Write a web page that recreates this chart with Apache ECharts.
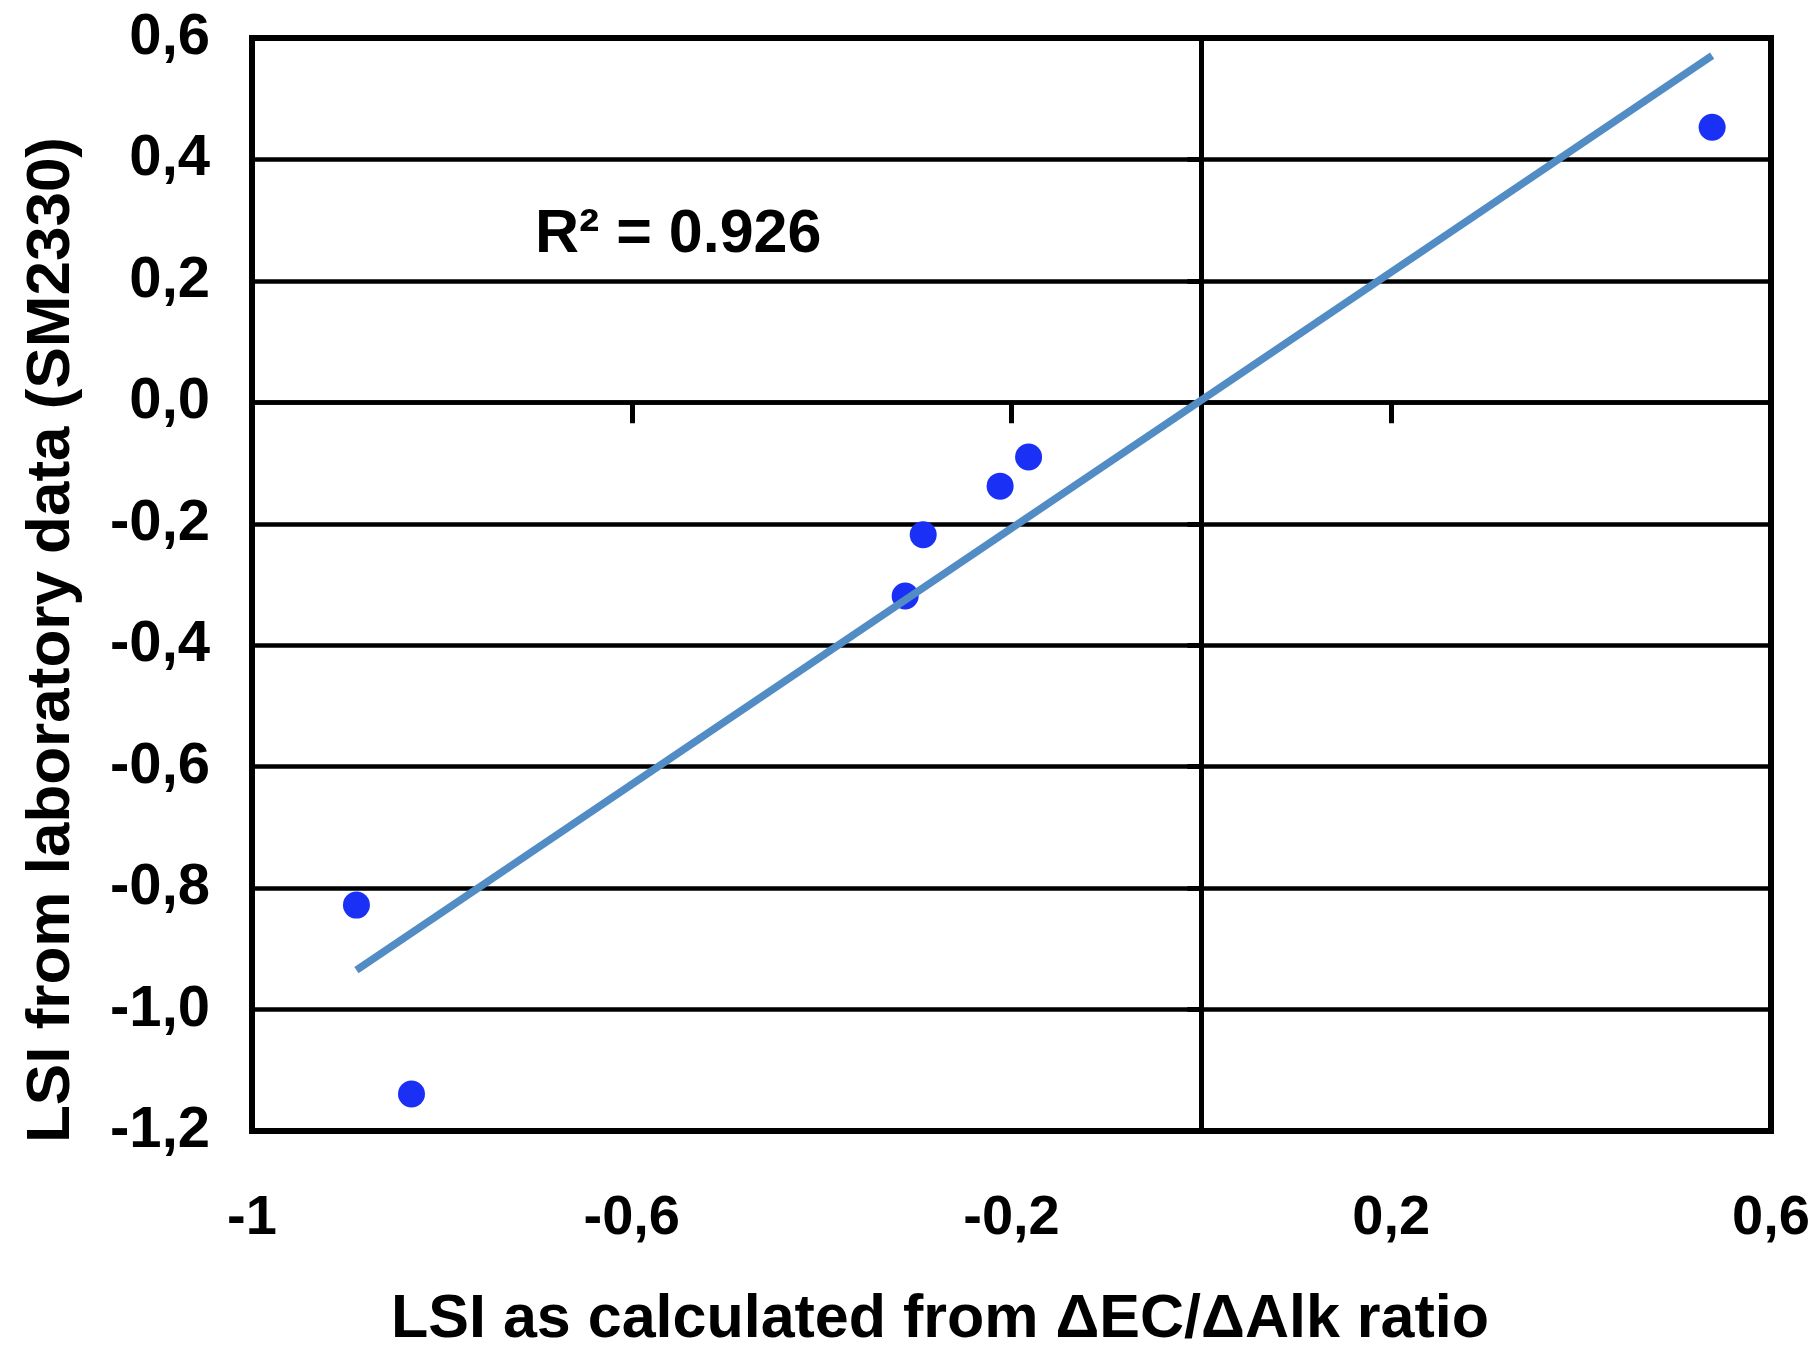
<!DOCTYPE html>
<html><head><meta charset="utf-8">
<script src="https://cdn.jsdelivr.net/npm/echarts@6/dist/echarts.min.js"></script>
<style>html,body{margin:0;padding:0;background:#fff}#c{width:1815px;height:1349px}</style>
</head><body><div id="c"></div>
<script>
// ---- data ----
const xValues = [-0.890, -0.832, -0.312, -0.293, -0.212, -0.182, 0.538];
const yValues = [-0.828, -1.139, -0.319, -0.218, -0.138, -0.090, 0.453];
const trendX = [-0.890, 0.538];
const trendY = [-0.935, 0.571];
const xTickLabels = ['-1', '-0,6', '-0,2', '0,2', '0,6'];
const yTickLabels = ['-1,2', '-1,0', '-0,8', '-0,6', '-0,4', '-0,2', '0,0', '0,2', '0,4', '0,6'];
const xAxisTitle = 'LSI as calculated from \u0394EC/\u0394Alk ratio';
const yAxisTitle = 'LSI from laboratory data (SM2330)';
const r2Label = 'R\u00B2 = 0.926';
const r2Anchor = [-0.702, 0.276];

const FONT = "'Liberation Sans', Arial, Helvetica, sans-serif";
const chart = echarts.init(document.getElementById('c'), null, {renderer: 'canvas'});

const points = xValues.map((x, i) => [x, yValues[i]]);
const trend = trendX.map((x, i) => [x, trendY[i]]);

const option = {
  backgroundColor: '#fff',
  animation: false,
  grid: {left: 252, top: 38, right: 44, bottom: 218, show: true, borderColor: '#000', borderWidth: 6, backgroundColor: 'transparent'},
  xAxis: [
    {type: 'value', min: -1, max: 0.6, interval: 0.4, position: 'bottom',
     axisLine: {show: false, onZero: false}, axisTick: {show: false}, splitLine: {show: false},
     axisLabel: {margin: 60, color: '#000', fontFamily: FONT, fontWeight: 'bold', fontSize: 56,
       formatter: (v, i) => xTickLabels[i]}},
    {type: 'value', min: -1, max: 0.6, interval: 0.4, position: 'top',
     axisLine: {show: true, onZero: true, lineStyle: {color: '#000', width: 4.5}},
     axisTick: {show: true, inside: true, length: 21, lineStyle: {color: '#000', width: 5}},
     axisLabel: {show: false}, splitLine: {show: false}}
  ],
  yAxis: [
    {type: 'value', min: -1.2, max: 0.6, interval: 0.2, position: 'left',
     axisLine: {show: false, onZero: false}, axisTick: {show: false},
     splitLine: {show: true, lineStyle: {color: '#000', width: 4.5}},
     axisLabel: {margin: 42, color: '#000', fontFamily: FONT, fontWeight: 'bold', fontSize: 58,
       formatter: (v, i) => yTickLabels[i]}},
    {type: 'value', min: -1.2, max: 0.6, interval: 0.2, position: 'right',
     axisLine: {show: true, onZero: true, lineStyle: {color: '#000', width: 5}},
     axisTick: {show: true, inside: true, length: 14, lineStyle: {color: '#000', width: 5}},
     axisLabel: {show: false}, splitLine: {show: false}}
  ],
  series: [
    {type: 'scatter', xAxisIndex: 0, yAxisIndex: 0, data: points, symbol: 'circle', symbolSize: 27,
     itemStyle: {color: '#1b30f5', opacity: 1}, z: 3},
    {type: 'line', xAxisIndex: 0, yAxisIndex: 0, data: trend, symbol: 'none',
     lineStyle: {color: '#528cc4', width: 7.5}, z: 4}
  ]
};
chart.setOption(option);

const r2Pos = chart.convertToPixel({gridIndex: 0}, r2Anchor);
chart.setOption({
  graphic: [
    {type: 'text', x: r2Pos[0], y: r2Pos[1],
     style: {text: r2Label, fill: '#000', font: 'bold 61px ' + FONT, textAlign: 'left', textVerticalAlign: 'middle'}},
    {type: 'text', x: 940, y: 1320,
     style: {text: xAxisTitle, fill: '#000', font: 'bold 61px ' + FONT, textAlign: 'center', textVerticalAlign: 'middle'}},
    {type: 'text', x: 52, y: 640, rotation: Math.PI / 2,
     style: {text: yAxisTitle, fill: '#000', font: 'bold 62px ' + FONT, textAlign: 'center', textVerticalAlign: 'middle'}}
  ]
});
</script>
</body></html>
